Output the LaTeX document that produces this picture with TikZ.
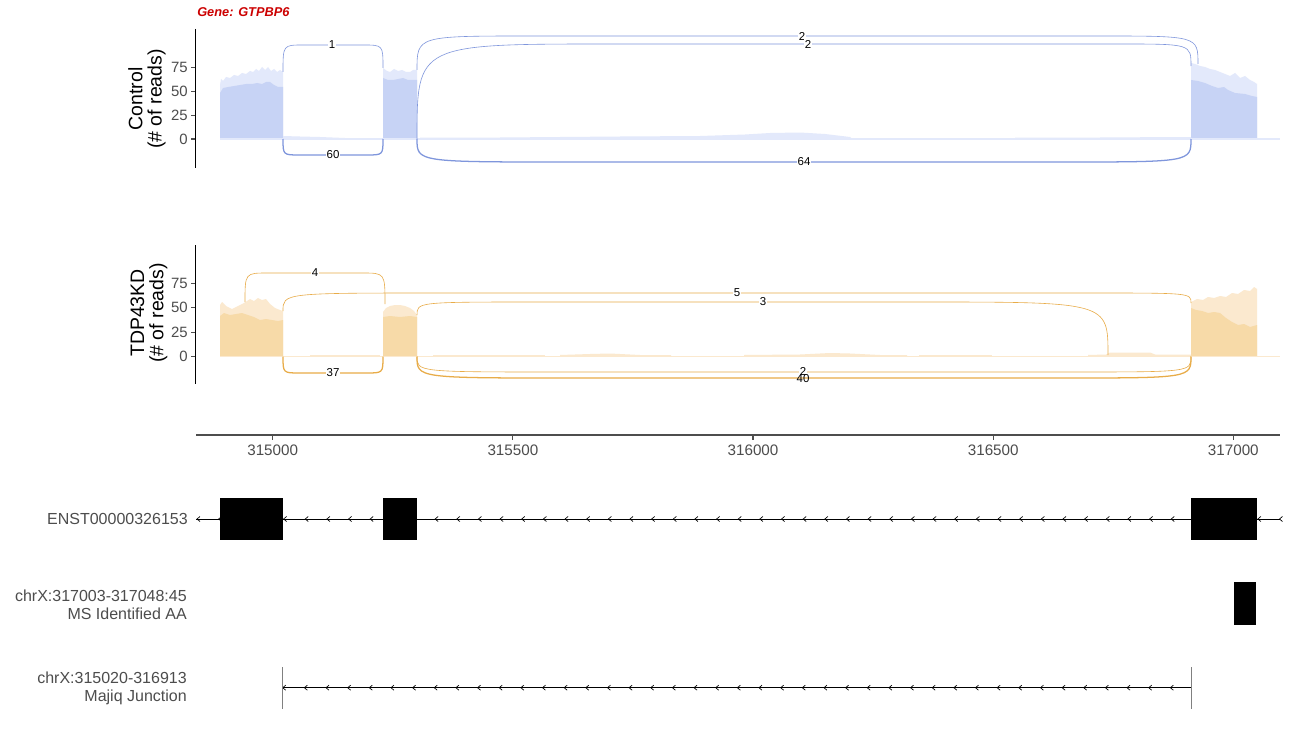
\documentclass[tikz,border=0pt]{standalone}
\usepackage{fontspec}
\setmainfont{Liberation Sans}
\definecolor{cline}{HTML}{7F96DC}
\definecolor{cdark}{HTML}{C7D3F5}
\definecolor{clight}{HTML}{E3E9FB}
\definecolor{tline}{HTML}{E8AC48}
\definecolor{tdark}{HTML}{F7DAA8}
\definecolor{tlight}{HTML}{FBE9CF}
\definecolor{gtxt}{HTML}{4D4D4D}
\definecolor{gred}{HTML}{CC0000}
\begin{document}
\begin{tikzpicture}[x=0.75pt,y=-0.75pt,
  jthin/.style={line width=0.45pt},
  jthick/.style={line width=0.95pt},
  jlab/.style={font=\fontsize{8.6}{9}\selectfont, fill=white, inner sep=0.6pt, text=black},
  ytick/.style={font=\fontsize{11.2}{12}\selectfont, text=gtxt, anchor=east, inner sep=0pt},
  xtick/.style={font=\fontsize{11.4}{12}\selectfont, text=gtxt, inner sep=0pt},
  glab/.style={font=\fontsize{12}{13.5}\selectfont, text=gtxt, anchor=east, align=right, inner sep=0pt},
  ytitle/.style={font=\fontsize{14.6}{14.5}\selectfont, rotate=90, align=center, inner sep=0pt},
  chev/.style={line width=0.5pt, black},
  tickmark/.style={gtxt, line width=0.8pt}]
\path[use as bounding box, fill=white] (0,0) rectangle (1296,742);

% ---------------- title
\node[anchor=base west, inner sep=0pt, text=gred, font=\fontsize{9.6}{11}\selectfont\bfseries\itshape] (title) at (197,16.5) {Gene: GTPBP6};

% ================= CONTROL PANEL (baseline y=139)
\fill[clight] (220,139) -- (220,85) -- (221,79) -- (223,81) -- (226,77) -- (230,78) -- (234,75) -- (238,76) -- (242,73) -- (246,74) -- (250,71) -- (253,72) -- (256,69) -- (259,71) -- (262,67) -- (265,70) -- (268,67) -- (271,71) -- (274,69) -- (277,72) -- (280,70) -- (283,72) -- (283,139) -- cycle;
\fill[cdark] (220,139) -- (220,93) -- (223,88) -- (228,87) -- (234,86) -- (240,85) -- (246,84) -- (252,84) -- (257,83) -- (262,84) -- (266,82) -- (270,82) -- (274,85) -- (278,87) -- (283,87) -- (283,139) -- cycle;
\fill[clight] (383,139) -- (383,68) -- (387,71) -- (390,72) -- (394,69) -- (398,71) -- (402,70) -- (406,72) -- (410,72) -- (413,70) -- (417,70) -- (417,139) -- cycle;
\fill[cdark] (383,139) -- (383,78) -- (388,80) -- (393,80) -- (398,79) -- (403,78) -- (408,80) -- (413,80) -- (417,80) -- (417,139) -- cycle;
\fill[clight] (1191,139) -- (1191,63) -- (1195,64) -- (1200,66) -- (1205,67) -- (1210,69) -- (1215,70) -- (1220,72) -- (1225,74) -- (1230,76) -- (1235,73) -- (1240,78) -- (1245,76) -- (1250,80) -- (1254,82) -- (1257,84) -- (1257,139) -- cycle;
\fill[cdark] (1191,139) -- (1191,80) -- (1198,81) -- (1205,83) -- (1212,86) -- (1218,88) -- (1224,87) -- (1228,90) -- (1235,93) -- (1245,94) -- (1252,96) -- (1257,97) -- (1257,139) -- cycle;
\draw[clight, line width=0.8pt] (220,139) -- (1280,139);
\fill[clight] (283,139) -- (283,136) -- (300,136.5) -- (320,137) -- (345,138) -- (345,139) -- cycle;
\fill[clight] (420,139) -- (420,137.5) -- (500,137.5) -- (560,137) -- (620,136.5) -- (700,136) -- (745,134.5) -- (770,133) -- (800,132.5) -- (825,134) -- (850,137) -- (852,139) -- cycle;
\fill[clight] (1015,139) -- (1015,137.5) -- (1100,137.5) -- (1180,137) -- (1191,137) -- (1191,139) -- cycle;
\draw[black, line width=0.7pt] (195,29) -- (195,168);
\foreach \v/\yy in {75/67.7,50/91.5,25/115.3,0/139} {
  \draw[tickmark] (191,\yy) -- (195,\yy);
  \node[ytick] (cy\v) at (188,\yy) {\v};
}
\node[ytitle] (ctitle) at (147,99) {Control\\(\# of reads)};
\draw[cline, jthin] (283,72) .. controls (283,45) .. (303,45) -- (363,45) .. controls (383,45) .. (383,68);
\draw[cline, jthick] (283,139) .. controls (283,155) .. (300,155) -- (366,155) .. controls (383,155) .. (383,139);
\draw[cline, jthin] (417,70) .. controls (417,36) .. (530,36) -- (1100,36) .. controls (1198,36) .. (1198,64);
\draw[cline, jthin] (417,139) .. controls (417,44) .. (610,44) -- (1120,44) .. controls (1191,44) .. (1191,66);
\draw[cline, jthick] (417,139) .. controls (417,162) .. (567,162) -- (1060,162) .. controls (1191,162) .. (1191,139);
\node[jlab] (c1) at (332,45) {1};
\node[jlab] (c60) at (333,155) {60};
\node[jlab] (c2a) at (802,36) {2};
\node[jlab] (c2b) at (808,44) {2};
\node[jlab] (c64) at (804,162) {64};

% ================= TDP43KD PANEL (baseline y=356.5)
\fill[tlight] (220,356.5) -- (220,305) -- (222,302) -- (226,306) -- (232,309) -- (238,306) -- (244,303) -- (250,299) -- (254,301) -- (258,298) -- (262,300) -- (266,299) -- (270,304) -- (275,308) -- (280,310) -- (283,311) -- (283,356.5) -- cycle;
\fill[tdark] (220,356.5) -- (220,316) -- (224,313) -- (230,315) -- (236,314) -- (242,313) -- (248,315) -- (254,317) -- (260,320) -- (266,319) -- (272,320) -- (278,321) -- (283,320) -- (283,356.5) -- cycle;
\fill[tlight] (383,356.5) -- (383,312) -- (386,308) -- (390,306) -- (395,305) -- (400,305) -- (405,306) -- (410,308) -- (414,311) -- (417,315) -- (417,356.5) -- cycle;
\fill[tdark] (383,356.5) -- (383,317) -- (390,316) -- (400,317) -- (410,316) -- (417,317) -- (417,356.5) -- cycle;
\fill[tlight] (1191,356.5) -- (1191,302) -- (1197,299) -- (1203,300) -- (1208,297) -- (1214,298) -- (1220,296) -- (1226,297) -- (1232,293) -- (1238,294) -- (1244,290) -- (1250,291) -- (1254,287) -- (1257,289) -- (1257,356.5) -- cycle;
\fill[tdark] (1191,356.5) -- (1191,308) -- (1196,310) -- (1202,311) -- (1208,313) -- (1214,312) -- (1220,313) -- (1226,318) -- (1232,322) -- (1238,325) -- (1244,324) -- (1250,327) -- (1257,325) -- (1257,356.5) -- cycle;
\draw[tlight, line width=0.8pt] (220,356.5) -- (1280,356.5);
\fill[tlight] (310,356.5) -- (310,355) -- (380,355) -- (380,356.5) -- cycle;
\fill[tlight] (433,356.5) -- (433,355) -- (545,355) -- (545,356.5) -- cycle;
\fill[tlight] (560,356.5) -- (560,355) -- (590,354) -- (610,353.5) -- (640,355) -- (671,355) -- (671,356.5) -- cycle;
\fill[tlight] (744,356.5) -- (744,355) -- (800,354.5) -- (830,353) -- (850,353.5) -- (880,355) -- (907,355) -- (907,356.5) -- cycle;
\fill[tlight] (919,356.5) -- (919,355) -- (992,355) -- (992,356.5) -- cycle;
\fill[tlight] (1088,356.5) -- (1088,355) -- (1106,354.5) -- (1110,352.5) -- (1150,352.5) -- (1155,354.5) -- (1191,354.5) -- (1191,356.5) -- cycle;
\draw[black, line width=0.7pt] (195,245) -- (195,384);
\foreach \v/\yy in {75/283.5,50/307.8,25/332.1,0/356.5} {
  \draw[tickmark] (191,\yy) -- (195,\yy);
  \node[ytick] (ty\v) at (188,\yy) {\v};
}
\node[ytitle] (ttitle) at (149,313) {TDP43KD\\(\# of reads)};
\draw[tline, jthin] (245,302) .. controls (245,273) .. (268,273) -- (362,273) .. controls (385,273) .. (385,304);
\draw[tline, jthin] (283,311) .. controls (283,293) .. (440,293) -- (1090,293) .. controls (1191,293) .. (1191,303);
\draw[tline, jthin] (417,315) .. controls (417,302) .. (540,302) -- (920,302) .. controls (1108,302) .. (1108,355);
\draw[tline, jthick] (283,356.5) .. controls (283,373) .. (300,373) -- (366,373) .. controls (383,373) .. (383,356.5);
\draw[tline, jthin] (417,356.5) .. controls (417,372) .. (560,372) -- (1070,372) .. controls (1191,372) .. (1191,356.5);
\draw[tline, jthick] (417,356.5) .. controls (417,378) .. (567,378) -- (1060,378) .. controls (1191,378) .. (1191,356.5);
\node[jlab] (t4) at (315,273) {4};
\node[jlab] (t5) at (737,293) {5};
\node[jlab] (t3) at (763,302) {3};
\node[jlab] (t37) at (333,373) {37};
\node[jlab] (t2) at (803,371.5) {2};
\node[jlab, fill=none] (t40) at (803,378.5) {40};

% ================= X AXIS
\draw[gtxt, line width=1.1pt] (196,435) -- (1280,435);
\foreach \p/\xx in {315000/272.7,315500/512.9,316000/753.0,316500/993.2,317000/1233.3} {
  \draw[tickmark] (\xx,435) -- (\xx,440);
  \node[xtick] (x\p) at (\xx,450.5) {\p};
}

% ================= GENE MODEL
\draw[black, line width=0.5pt] (196,519) -- (1280,519);
\foreach \k in {0,...,50} {
  \draw[chev] ({197+21.65*\k+3},516.5) -- ({197+21.65*\k},519) -- ({197+21.65*\k+3},521.5);
}
\fill[black] (220,498) rectangle (282.5,540);
\fill[black] (382.5,498) rectangle (416.5,540);
\fill[black] (1191,498) rectangle (1257,540);
\node[glab] (enst) at (188,519) {ENST00000326153};

\fill[black] (1234.3,582.3) rectangle (1255.7,625);
\node[glab] (ms) at (187,604.5) {chrX:317003-317048:45\\MS Identified AA};

\draw[black, line width=0.5pt] (282.7,687.7) -- (1191,687.7);
\foreach \k in {0,...,41} {
  \draw[chev] ({282.7+21.65*\k+3},685.2) -- ({282.7+21.65*\k},687.7) -- ({282.7+21.65*\k+3},690.2);
}
\draw[gray, line width=0.6pt] (282.7,667) -- (282.7,709);
\draw[gray, line width=0.6pt] (1191,667) -- (1191,709);
\node[glab] (mj) at (187,688.5) {chrX:315020-316913\\Majiq Junction};
\end{tikzpicture}
\end{document}
